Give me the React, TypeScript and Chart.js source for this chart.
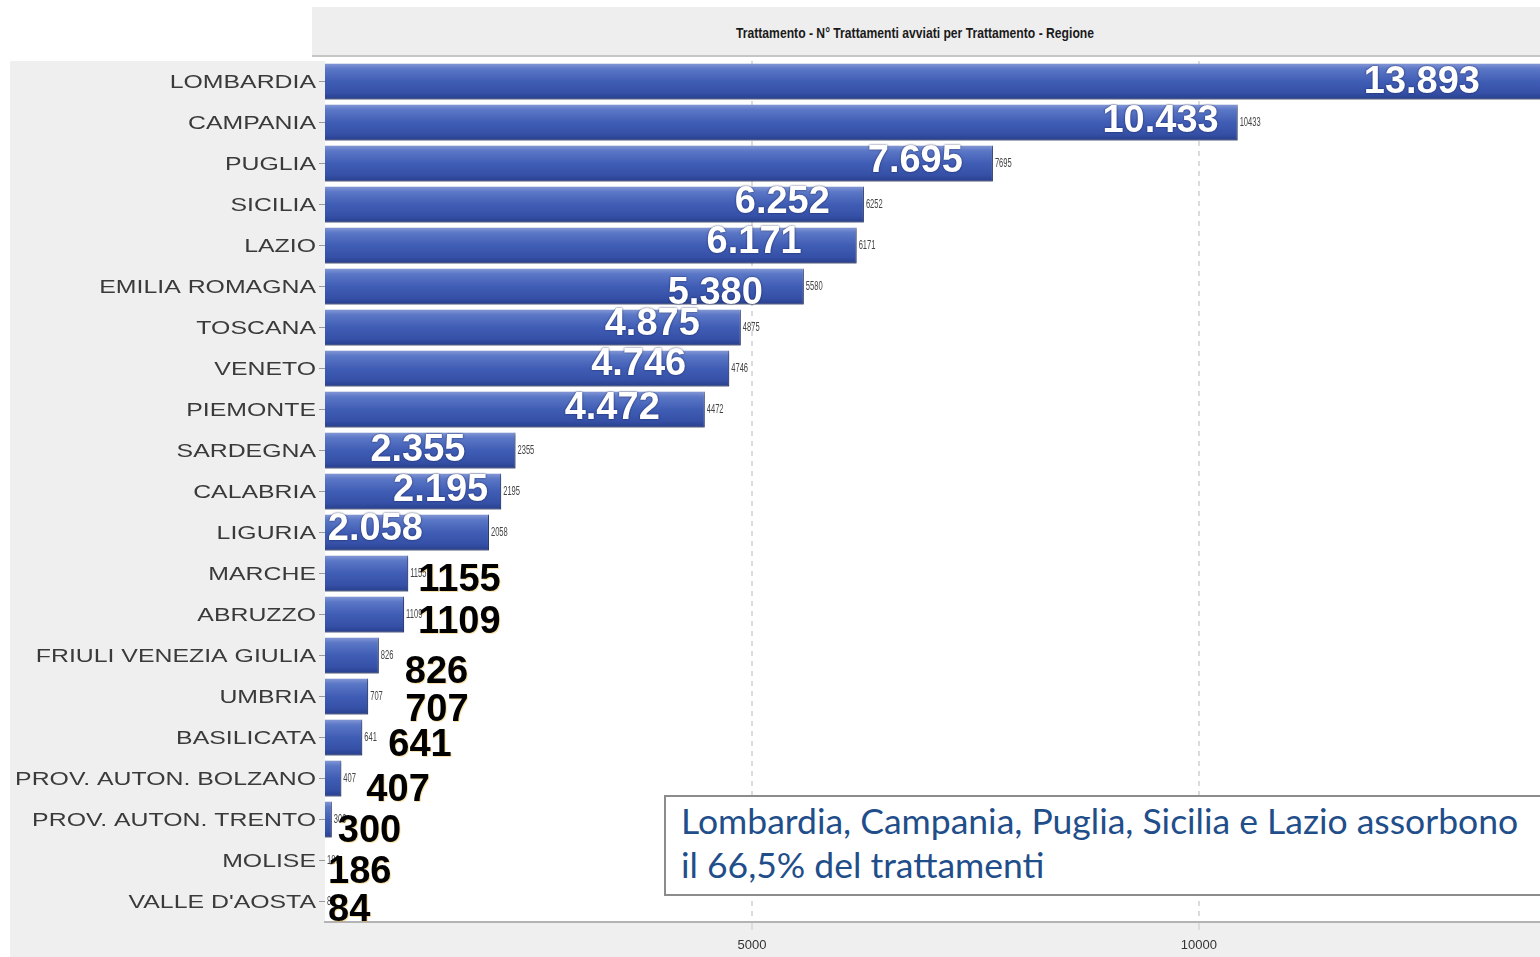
import React, { useEffect, useRef } from 'react';
import { Chart, registerables, CategoryScale } from 'chart.js';

// ---------- data ----------
const regions = [
  'LOMBARDIA', 'CAMPANIA', 'PUGLIA', 'SICILIA', 'LAZIO', 'EMILIA ROMAGNA', 'TOSCANA',
  'VENETO', 'PIEMONTE', 'SARDEGNA', 'CALABRIA', 'LIGURIA', 'MARCHE', 'ABRUZZO',
  'FRIULI VENEZIA GIULIA', 'UMBRIA', 'BASILICATA', 'PROV. AUTON. BOLZANO',
  'PROV. AUTON. TRENTO', 'MOLISE', "VALLE D'AOSTA",
];
const trattamenti = [
  13893, 10433, 7695, 6252, 6171, 5580, 4875, 4746, 4472, 2355, 2195, 2058,
  1155, 1109, 826, 707, 641, 407, 300, 186, 84,
];
// big hand-placed callouts as written on the picture
const calloutLabels = [
  '13.893', '10.433', '7.695', '6.252', '6.171', '5.380', '4.875', '4.746', '4.472',
  '2.355', '2.195', '2.058', '1155', '1109', '826', '707', '641', '407', '300', '186', '84',
];
const xTickValues = [5000, 10000];
const xMin = 224;
const xMax = 13815;
const insideThreshold = 2000; // callouts of bars above this are white, inside the bar

// callout nudges (styling: offset from bar end / bar centre, px)
const calloutDx = [-67, -19, -30, -34, -55, -41, -41, -43, -45, -50, -13, -66, 10, 14, 26, 37, 26, 25, 6, 3, 3];
const calloutDy = [-2.5, -4, -5, -5.5, -6, 4, -6, -7, -4, -3, -4, -6, 4, 5, 14, 11, 4.5, 9, 8.5, 8.5, 6];

const chartTitle = 'Trattamento - N° Trattamenti avviati per Trattamento - Regione';
const noteLines = ['Lombardia, Campania, Puglia, Sicilia e Lazio assorbono', 'il 66,5% del trattamenti'];

// ---------- y axis with horizontally stretched labels ----------
const LABEL_STRETCH = 1.38;
class StretchedCategoryScale extends CategoryScale {
  static id = 'stretchedCategory';
  static defaults = CategoryScale.defaults;
  drawLabels(chartArea: any) {
    const ctx = (this as any).ctx as CanvasRenderingContext2D;
    const opts: any = (this as any).options;
    const tl = opts.grid && opts.grid.display && opts.grid.drawTicks ? opts.grid.tickLength : 0;
    const anchor = (this as any).right - tl - opts.ticks.padding;
    ctx.save();
    ctx.translate(anchor, 0);
    ctx.scale(LABEL_STRETCH, 1);
    ctx.translate(-anchor, 0);
    super.drawLabels(chartArea);
    ctx.restore();
  }
}

Chart.register(...registerables, StretchedCategoryScale);

const panelPlugin = {
  id: 'panels',
  beforeDraw(chart: any) {
    const { ctx, chartArea, width, height } = chart;
    ctx.save();
    ctx.fillStyle = '#efefef';
    ctx.fillRect(10, chartArea.top, width - 10, height - chartArea.top);
    ctx.fillStyle = '#ffffff';
    ctx.fillRect(chartArea.left, chartArea.top - 3, chartArea.right - chartArea.left, chartArea.bottom - chartArea.top + 4);
    ctx.restore();
  },
};

const shadowPlugin = {
  id: 'barShadow',
  beforeDatasetsDraw(chart: any) {
    const c = chart.ctx;
    c.save();
    c.shadowColor = 'rgba(0,0,0,0.35)';
    c.shadowBlur = 3;
    c.shadowOffsetX = 2;
    c.shadowOffsetY = 2;
  },
  afterDatasetsDraw(chart: any) {
    chart.ctx.restore();
  },
};

const calloutPlugin = {
  id: 'callouts',
  afterDraw(chart: any) {
    const { ctx, chartArea } = chart;
    const x = chart.scales.x;
    const y = chart.scales.y;
    // small value labels at bar ends
    trattamenti.forEach((v, i) => {
      const end = Math.max(x.getPixelForValue(v), chartArea.left);
      const yc = y.getPixelForValue(i);
      ctx.save();
      ctx.beginPath();
      ctx.rect(chartArea.left, chartArea.top - 4, chartArea.right - chartArea.left, chartArea.bottom - chartArea.top + 8);
      ctx.clip();
      ctx.translate(end + 2, yc);
      ctx.scale(0.63, 1);
      ctx.font = '12px "Liberation Sans", Arial, sans-serif';
      ctx.fillStyle = '#444444';
      ctx.textAlign = 'left';
      ctx.textBaseline = 'middle';
      ctx.fillText(String(v), 0, 0);
      ctx.restore();
    });
    // big callouts
    const size = 38;
    trattamenti.forEach((v, i) => {
      const end = Math.max(x.getPixelForValue(v), chartArea.left);
      const yc = y.getPixelForValue(i);
      const inside = v > insideThreshold;
      ctx.save();
      ctx.font = `bold ${size}px "Liberation Sans", Arial, sans-serif`;
      ctx.textBaseline = 'alphabetic';
      const by = yc + calloutDy[i] + size * 0.358;
      if (inside) {
        ctx.textAlign = 'right';
        ctx.shadowColor = 'rgba(10,20,70,0.85)';
        ctx.shadowBlur = 2;
        ctx.fillStyle = '#ffffff';
      } else {
        ctx.textAlign = 'left';
        ctx.shadowColor = 'rgba(240,170,0,0.35)';
        ctx.shadowOffsetX = 1;
        ctx.shadowOffsetY = 1;
        ctx.fillStyle = '#000000';
      }
      ctx.fillText(calloutLabels[i], end + calloutDx[i], by);
      ctx.restore();
    });
  },
};

export default function App() {
  const canvasRef = useRef<HTMLCanvasElement | null>(null);

  useEffect(() => {
    const canvas = canvasRef.current;
    if (!canvas) return;
    const chart = new Chart(canvas, {
      type: 'bar',
      data: {
        labels: regions,
        datasets: [
          {
            label: 'N° Trattamenti avviati',
            data: trattamenti,
            barPercentage: 0.88,
            categoryPercentage: 1,
            borderColor: '#2a3d86',
            borderWidth: { top: 0, left: 0, right: 1, bottom: 1 },
            backgroundColor: (c: any) => {
              const ch = c.chart;
              const ys = ch.scales && ch.scales.y;
              if (!ch.chartArea || !ys || c.dataIndex === undefined) return '#3f5cb4';
              const yc = ys.getPixelForValue(c.dataIndex);
              const half = (Math.abs(ys.getPixelForValue(1) - ys.getPixelForValue(0)) * 0.88) / 2;
              const g = ch.ctx.createLinearGradient(0, yc - half, 0, yc + half);
              g.addColorStop(0, '#8498d6');
              g.addColorStop(0.15, '#5b77c6');
              g.addColorStop(0.5, '#405db5');
              g.addColorStop(0.82, '#3550a6');
              g.addColorStop(1, '#273e8c');
              return g;
            },
          },
        ],
      },
      options: {
        indexAxis: 'y',
        responsive: false,
        animation: false,
        layout: { padding: { left: 10, top: 61, right: 0, bottom: 0 } },
        plugins: {
          legend: { display: false },
          tooltip: { enabled: false },
          title: { display: false },
        },
        scales: {
          x: {
            type: 'linear',
            min: xMin,
            max: xMax,
            afterFit: (s: any) => { s.height = 35; },
            afterBuildTicks: (s: any) => { s.ticks = xTickValues.map((v) => ({ value: v })); },
            grid: { color: '#dcdcdc', lineWidth: 2, tickLength: 8 },
            border: { display: true, color: '#b3b3b3', width: 2, dash: [5, 5] },
            ticks: {
              includeBounds: false,
              padding: 8,
              color: '#333333',
              font: { family: '"Liberation Sans Narrow", "Liberation Sans", Arial, sans-serif', size: 13 },
              callback: (v: any) => String(v),
            },
          },
          y: {
            type: 'stretchedCategory' as any,
            afterFit: (s: any) => { s.width = 315; },
            grid: { display: true, drawOnChartArea: false, drawTicks: true, tickLength: 6, color: '#999999', lineWidth: 1, offset: false },
            border: { display: false },
            ticks: {
              autoSkip: false,
              padding: 3,
              labelOffset: 2,
              color: '#3a3a3a',
              font: { family: '"Liberation Sans", Arial, sans-serif', size: 18 },
            },
          },
        },
      },
      plugins: [panelPlugin, shadowPlugin, calloutPlugin],
    } as any);
    return () => chart.destroy();
  }, []);

  return (
    <div style={{ position: 'fixed', left: 0, top: 0, width: 1540, height: 957, overflow: 'hidden', background: '#ffffff' }}>
      <canvas ref={canvasRef} width={1540} height={957} style={{ position: 'absolute', left: 0, top: 0 }} />
      <div
        style={{
          position: 'absolute', left: 312, top: 7, width: 1228, height: 48,
          background: '#eeeeee', borderBottom: '2px solid #c6c6c6',
        }}
      >
        <div
          style={{
            position: 'absolute', left: 603, top: 25, transform: 'translate(-50%,-50%) scaleX(0.81)',
            whiteSpace: 'nowrap', font: 'bold 15px "Liberation Sans", Arial, sans-serif', color: '#1a1a1a',
          }}
        >
          {chartTitle}
        </div>
      </div>
      <div
        style={{
          position: 'absolute', left: 664, top: 795, width: 920, height: 101, boxSizing: 'border-box',
          border: '2px solid #8c8c8c', background: '#ffffff', padding: '2px 0 0 15px',
          font: '35.5px Lato, "Open Sans", sans-serif', lineHeight: '44px', color: '#1f4e8a', whiteSpace: 'nowrap',
        }}
      >
        {noteLines[0]}
        <br />
        {noteLines[1]}
      </div>
    </div>
  );
}
